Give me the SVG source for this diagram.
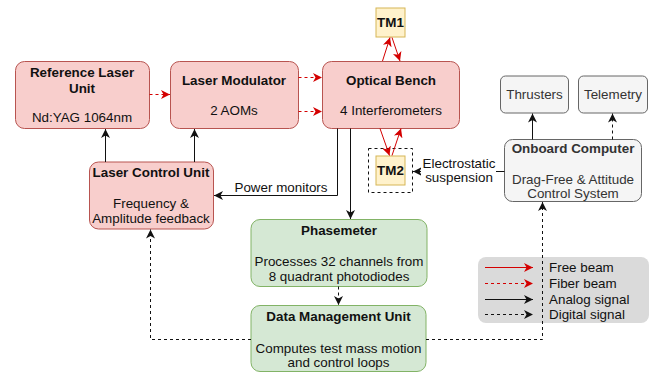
<svg xmlns="http://www.w3.org/2000/svg" width="654" height="373" viewBox="0 0 654 373">
<defs>
<style>
text{font-family:"Liberation Sans",Arial,sans-serif;font-size:13.4px;fill:#111;text-anchor:middle}
.b{font-weight:bold}
.red{fill:#f8cecc;stroke:#b85450;stroke-width:1}
.grn{fill:#d5e8d4;stroke:#82b366;stroke-width:1}
.yel{fill:#fff2cc;stroke:#d6b656;stroke-width:1}
.gry{fill:#f5f5f5;stroke:#666666;stroke-width:1}
.g{fill:#333333}
.free{stroke:#d40000;fill:none;stroke-width:1;marker-end:url(#ar)}
.fiber{stroke:#d40000;fill:none;stroke-width:1;stroke-dasharray:3 3;marker-end:url(#ar)}
.ana{stroke:#111;fill:none;stroke-width:1;marker-end:url(#ab)}
.dig{stroke:#111;fill:none;stroke-width:1;stroke-dasharray:3 3;marker-end:url(#ab)}
.lt{text-anchor:start}
</style>
<marker id="ar" markerUnits="userSpaceOnUse" markerWidth="10" markerHeight="9" refX="9" refY="4.5" orient="auto"><path d="M0,0 L9,4.5 L0,9 L2.5,4.5 z" fill="#d40000"/></marker>
<marker id="ab" markerUnits="userSpaceOnUse" markerWidth="10" markerHeight="9" refX="9" refY="4.5" orient="auto"><path d="M0,0 L9,4.5 L0,9 L2.5,4.5 z" fill="#111"/></marker>
</defs>
<rect width="654" height="373" fill="#fff"/>

<g id="legend">
<rect x="478" y="257" width="171" height="66" rx="8" fill="#dadada"/>
<line x1="485" y1="267.5" x2="533" y2="267.5" class="free"/>
<line x1="485" y1="283.5" x2="533" y2="283.5" class="fiber"/>
<line x1="485" y1="299.5" x2="533" y2="299.5" class="ana"/>
<line x1="485" y1="314.5" x2="533" y2="314.5" class="dig"/>
<text x="549" y="272" class="lt">Free beam</text>
<text x="549" y="288" class="lt">Fiber beam</text>
<text x="549" y="304" class="lt">Analog signal</text>
<text x="549" y="319" class="lt">Digital signal</text>
</g>

<g id="ref-laser">
<rect x="15.5" y="61.5" width="134" height="67" rx="9" class="red"/>
<text x="82" y="76.5" class="b">Reference Laser</text>
<text x="82" y="92.5" class="b">Unit</text>
<text x="82" y="121.5">Nd:YAG 1064nm</text>
</g>
<g id="modulator">
<rect x="170.5" y="61.5" width="128" height="67" rx="9" class="red"/>
<text x="234" y="84.5" class="b">Laser Modulator</text>
<text x="234" y="114.5">2 AOMs</text>
</g>
<g id="bench">
<rect x="322.5" y="61.5" width="137" height="67" rx="9" class="red"/>
<text x="391" y="84.5" class="b">Optical Bench</text>
<text x="391" y="114.5">4 Interferometers</text>
</g>
<g id="tm1">
<rect x="376" y="8" width="29" height="29" class="yel"/>
<text x="390.5" y="27" class="b">TM1</text>
</g>
<g id="tm2">
<rect x="368.5" y="148.5" width="44" height="44" fill="none" stroke="#111" stroke-dasharray="3 3"/>
<rect x="376" y="156" width="29" height="29" class="yel"/>
<text x="390.5" y="175" class="b">TM2</text>
</g>
<g id="lcu">
<rect x="89.5" y="162" width="124" height="67" rx="9" class="red"/>
<text x="151" y="177" class="b">Laser Control Unit</text>
<text x="151" y="207.5">Frequency &amp;</text>
<text x="151" y="222.5">Amplitude feedback</text>
</g>
<g id="phasemeter">
<rect x="251" y="219.5" width="176" height="67" rx="9" class="grn"/>
<text x="339" y="235" class="b">Phasemeter</text>
<text x="339" y="266">Processes 32 channels from</text>
<text x="339" y="280.5">8 quadrant photodiodes</text>
</g>
<g id="dmu">
<rect x="251" y="305.5" width="175" height="66" rx="9" class="grn"/>
<text x="338.5" y="321" class="b">Data Management Unit</text>
<text x="338.5" y="352.5">Computes test mass motion</text>
<text x="338.5" y="366.5">and control loops</text>
</g>
<g id="obc">
<rect x="504.5" y="139.5" width="137" height="62" rx="8" class="gry"/>
<text x="573" y="153" class="b g">Onboard Computer</text>
<text x="573" y="184" class="g">Drag-Free &amp; Attitude</text>
<text x="573" y="198" class="g">Control System</text>
</g>
<g id="thrusters">
<rect x="500.5" y="76" width="68" height="37" rx="5" class="gry"/>
<text x="534.5" y="99" class="g">Thrusters</text>
</g>
<g id="telemetry">
<rect x="578.5" y="76" width="69" height="37" rx="5" class="gry"/>
<text x="613" y="99" class="g">Telemetry</text>
</g>

<g id="connectors">
<line x1="149.5" y1="94.5" x2="170" y2="94.5" class="fiber"/>
<line x1="298.5" y1="77.5" x2="322" y2="77.5" class="fiber"/>
<line x1="298.5" y1="111.5" x2="322" y2="111.5" class="fiber"/>
<line x1="382.5" y1="61" x2="390" y2="37.5" class="free"/>
<line x1="392" y1="37.5" x2="400" y2="61" class="free"/>
<line x1="380" y1="128.5" x2="389.5" y2="155.5" class="free"/>
<line x1="392" y1="155.5" x2="401" y2="128.5" class="free"/>
<line x1="105.5" y1="162" x2="105.5" y2="129" class="ana"/>
<line x1="194.5" y1="162" x2="194.5" y2="129" class="ana"/>
<polyline points="337.5,128.5 337.5,195.5 214,195.5" class="ana"/>
<text x="281" y="192">Power monitors</text>
<line x1="350.5" y1="128.5" x2="350.5" y2="219" class="ana"/>
<line x1="338.5" y1="286.5" x2="338.5" y2="305" class="dig"/>
<polyline points="251,339.5 150.5,339.5 150.5,229.5" class="dig"/>
<polyline points="426,339.5 542.5,339.5 542.5,202" class="dig"/>
<line x1="532.5" y1="139.5" x2="532.5" y2="113.5" class="ana"/>
<line x1="612.5" y1="139.5" x2="612.5" y2="113.5" class="dig"/>
<line x1="504.5" y1="171.5" x2="413" y2="171.5" class="ana"/>
<rect x="421" y="156" width="75" height="30" fill="#fff"/>
<text x="459" y="168">Electrostatic</text>
<text x="459" y="182">suspension</text>
</g>
</svg>
